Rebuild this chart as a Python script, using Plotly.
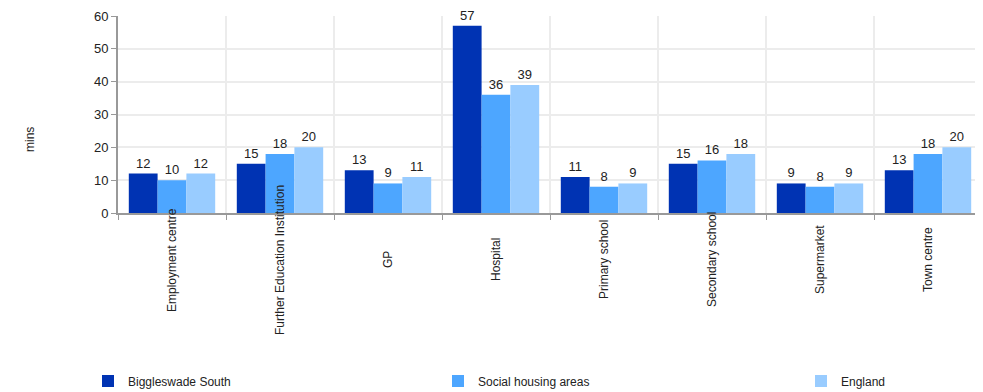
import plotly.graph_objects as go

categories = ["Employment centre", "Further Education Institution", "GP", "Hospital",
              "Primary school", "Secondary school", "Supermarket", "Town centre"]
biggleswade = [12, 15, 13, 57, 11, 15, 9, 13]
social = [10, 18, 9, 36, 8, 16, 8, 18]
england = [12, 20, 11, 39, 9, 18, 9, 20]

series = [("Biggleswade South", biggleswade, "#0033b3", "legend"),
          ("Social housing areas", social, "#4da6ff", "legend2"),
          ("England", england, "#99ccff", "legend3")]

fig = go.Figure()
for name, vals, col, lg in series:
    fig.add_trace(go.Bar(
        x=categories, y=vals, name=name, marker_color=col, marker_line_width=0,
        text=vals, textposition="outside", cliponaxis=False, legend=lg,
        textfont=dict(size=13, color="#222", family="Liberation Sans, Arial"),
    ))

# page body has an 8px margin; compensate so the plot lands at the target pixels
L, PW, B0, PH = 118, 864, 213, 197
def px2x(px):
    return (px - L) / PW
def py2y(py):
    return (B0 - py) / PH

leg_common = dict(orientation="h", xanchor="left", y=py2y(381), yanchor="middle",
                  font=dict(size=12, color="#222"), bgcolor="rgba(0,0,0,0)")

fig.update_layout(
    width=975, height=384,
    margin=dict(l=110, r=1, t=8, b=179, autoexpand=False),
    paper_bgcolor="white", plot_bgcolor="white",
    barmode="group", bargap=0.2, bargroupgap=0,
    font=dict(family="Liberation Sans, Arial", size=12, color="#222"),
    showlegend=True,
    legend=dict(x=px2x(88), **leg_common),
    legend2=dict(x=px2x(438), **leg_common),
    legend3=dict(x=px2x(801), **leg_common),
)
fig.update_xaxes(
    tickson="boundaries", showgrid=True, gridcolor="#ececec", gridwidth=2,
    showline=True, linecolor="#999", linewidth=2,
    ticks="outside", ticklen=5, tickcolor="#999", tickwidth=1,
    showticklabels=False, automargin=False,
)
fig.update_yaxes(
    range=[0, 60], dtick=10, showgrid=True, gridcolor="#ececec", gridwidth=2,
    showline=True, linecolor="#999", linewidth=2,
    ticks="outside", ticklen=5, tickcolor="#999", tickwidth=1,
    tickfont=dict(size=13, color="#222"), zeroline=False, automargin=False,
)
# category labels, rotated and centred below the axis
for c in categories:
    fig.add_annotation(text=c, x=c, xref="x", xanchor="center",
                       y=py2y(260), yref="paper", yanchor="middle",
                       showarrow=False, textangle=-90,
                       font=dict(size=12, color="#222"))
fig.add_annotation(text="mins", x=px2x(30), xref="paper", xanchor="center",
                   y=py2y(140), yref="paper", yanchor="middle",
                   showarrow=False, textangle=-90,
                   font=dict(size=12, color="#222"))

fig.write_html("out.html")
